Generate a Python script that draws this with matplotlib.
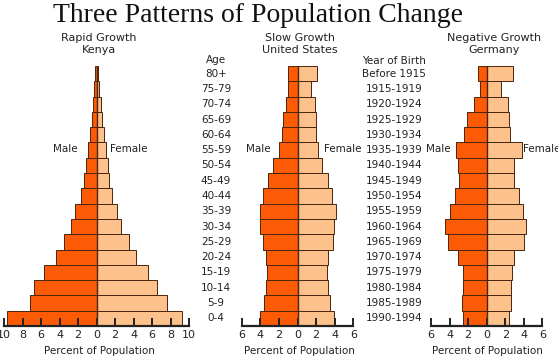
import matplotlib

matplotlib.use("Agg")
import matplotlib.pyplot as plt
from matplotlib.ticker import FuncFormatter
from matplotlib.transforms import blended_transform_factory

# age groups, bottom (0-4) to top (80+)
ages = ["0-4", "5-9", "10-14", "15-19", "20-24", "25-29", "30-34", "35-39",
        "40-44", "45-49", "50-54", "55-59", "60-64", "65-69", "70-74", "75-79", "80+"]
birth_years = ["1990-1994", "1985-1989", "1980-1984", "1975-1979", "1970-1974",
               "1965-1969", "1960-1964", "1955-1959", "1950-1954", "1945-1949",
               "1940-1944", "1935-1939", "1930-1934", "1925-1929", "1920-1924",
               "1915-1919", "Before 1915"]

kenya_male = [9.7, 7.2, 6.8, 5.7, 4.4, 3.5, 2.8, 2.3, 1.7, 1.3, 1.1, 0.9, 0.7, 0.5, 0.35, 0.3, 0.2]
kenya_female = [9.2, 7.6, 6.5, 5.6, 4.3, 3.5, 2.6, 2.2, 1.7, 1.3, 1.2, 1.0, 0.8, 0.6, 0.45, 0.3, 0.2]

us_male = [4.0, 3.6, 3.4, 3.3, 3.4, 3.7, 4.0, 4.0, 3.7, 3.2, 2.6, 2.0, 1.7, 1.6, 1.25, 1.0, 1.0]
us_female = [3.9, 3.5, 3.3, 3.2, 3.3, 3.8, 3.9, 4.1, 3.7, 3.25, 2.6, 2.2, 2.0, 2.0, 1.9, 1.5, 2.1]

germany_male = [2.5, 2.7, 2.6, 2.6, 3.1, 4.2, 4.5, 3.9, 3.4, 2.95, 3.05, 3.35, 2.45, 2.1, 1.4, 0.7, 0.95]
germany_female = [2.45, 2.6, 2.6, 2.7, 2.95, 4.0, 4.2, 3.9, 3.5, 2.95, 2.95, 3.8, 2.5, 2.45, 2.3, 1.5, 2.8]

MALE_COLOR = "#fd5a06"
FEMALE_COLOR = "#fdc28c"
EDGE = "#4a250e"
W, H = 558, 364


def fx(x):
    return x / W


def fy(y):
    return 1 - y / H


fig = plt.figure(figsize=(W / 100, H / 100), dpi=100)
fig.patch.set_facecolor("white")

sans = "DejaVu Sans"
bottom = fy(326)
height = (326 - 66) / H


def pyramid(left_px, right_px, limit, male, female, subtitle, sub_x, xlabel_x, male_x, female_x, female_ha="center"):
    ax = fig.add_axes([fx(left_px), bottom, fx(right_px - left_px), height])
    y = list(range(len(ages)))
    ax.barh(y, [-v for v in male], height=1.0, color=MALE_COLOR, edgecolor=EDGE, linewidth=0.7)
    ax.barh(y, female, height=1.0, color=FEMALE_COLOR, edgecolor=EDGE, linewidth=0.7)
    ax.axvline(0, color=EDGE, linewidth=1.0)
    ax.set_xlim(-limit, limit)
    ax.set_ylim(-0.5, len(ages) - 0.5)
    for side in ("top", "left", "right"):
        ax.spines[side].set_visible(False)
    ax.spines["bottom"].set_linewidth(1.6)
    ax.spines["bottom"].set_color("#222222")
    ax.set_yticks([])
    ax.set_xticks(range(-limit, limit + 1, 2))
    ax.xaxis.set_major_formatter(FuncFormatter(lambda v, p: f"{abs(int(v))}"))
    ax.tick_params(axis="x", direction="in", length=6, width=1.4, pad=3,
                   labelsize=8, colors="#222222")
    ax.set_facecolor("none")
    fig.text(fx(sub_x), fy(44), subtitle, ha="center", va="center",
             fontsize=8, family=sans, color="#222222", linespacing=1.3)
    fig.text(fx(xlabel_x), fy(351), "Percent of Population", ha="center", va="center",
             fontsize=7.5, family=sans, color="#222222")
    fig.text(fx(male_x), fy(149), "Male", ha="center", va="center",
             fontsize=7.5, family=sans, color="#222222")
    fig.text(fx(female_x), fy(149), "Female", ha=female_ha, va="center",
             fontsize=7.5, family=sans, color="#222222")
    return ax


ax_k = pyramid(4, 189, 10, kenya_male, kenya_female, "Rapid Growth\nKenya",
               99, 99, 65, 129)
ax_us = pyramid(241.7, 353.3, 6, us_male, us_female, "Slow Growth\nUnited States",
                300, 299, 258, 343)
ax_de = pyramid(431, 542.3, 6, germany_male, germany_female, "Negative Growth\nGermany",
                494, 487, 438, 523, female_ha="left")

# row labels between the pyramids
tr = blended_transform_factory(fig.transFigure, ax_us.transData)
for i, lab in enumerate(ages):
    fig.text(fx(216), i, lab, transform=tr, ha="center", va="center",
             fontsize=7.5, family=sans, color="#222222")
for i, lab in enumerate(birth_years):
    fig.text(fx(394), i, lab, transform=tr, ha="center", va="center",
             fontsize=7.5, family=sans, color="#222222")
fig.text(fx(216), fy(60), "Age", ha="center", va="center", fontsize=7.5, family=sans, color="#222222")
fig.text(fx(394), fy(61), "Year of Birth", ha="center", va="center", fontsize=7.5, family=sans, color="#222222")

fig.text(fx(258), fy(15), "Three Patterns of Population Change", ha="center", va="center",
         fontsize=20, family="Liberation Serif", color="#111111")

fig.savefig("out.png", dpi=100)
